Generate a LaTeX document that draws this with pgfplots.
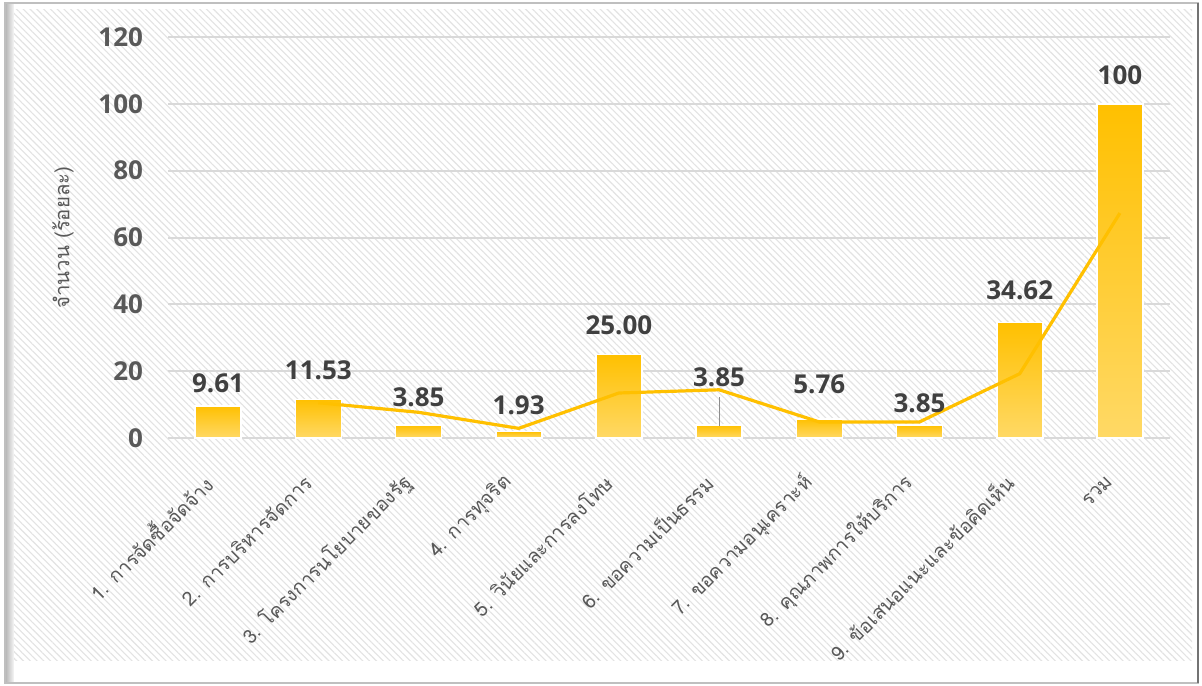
\documentclass[border=0pt]{standalone}
\usepackage{fontspec}
\usepackage{pgfplots}
\pgfplotsset{compat=1.18}
\usetikzlibrary{patterns.meta}
\newfontfamily\thai[Script=Thai]{Loma}
\newfontfamily\numfont{Open Sans}
\definecolor{barTop}{RGB}{255,192,0}
\definecolor{barBot}{RGB}{255,217,102}
\definecolor{lineCol}{RGB}{255,192,0}
\definecolor{gridCol}{RGB}{217,217,217}
\definecolor{tickCol}{RGB}{89,89,89}
\definecolor{labCol}{RGB}{64,64,64}

\pgfplotstableread{
x y label
1 16.5 9.61
2 20.3 11.53
3 12.3 3.85
4 9.9 1.93
5 33.8 25.00
6 18.3 3.85
7 16.2 5.76
8 10.5 3.85
9 44.3 34.62
10 108.6 100
}\labels

\pgfplotsset{gbar/.style={ybar, bar width=23pt, draw=white, line width=0.8pt, top color=barTop, bottom color=barBot}}

\begin{document}
\begin{tikzpicture}
% page and frame (1px = 0.5pt, origin at the axis corner)
\useasboundingbox (-84pt,-123.5pt) rectangle (517pt,219pt);
\fill[white] (-84pt,-123.5pt) rectangle (517pt,219pt);
\fill[pattern={Lines[angle=-45,distance=2.4pt,line width=0.55pt]}, pattern color=black!11]
  (-78pt,-111pt) rectangle (512pt,214pt);
\shade[left color=black!30, right color=black!3] (-81.5pt,-122.5pt) rectangle (-77pt,217.5pt);
\draw[black!25, line width=1pt] (-81.5pt,-122.5pt) rectangle (515pt,217.5pt);
\draw[black!55, line width=1.2pt] (515pt,-122.5pt) -- (515pt,217.5pt);

\begin{axis}[
    scale only axis,
    width=501pt, height=200.5pt,
    at={(0,0)}, anchor=south west,
    xmin=0.5, xmax=10.5,
    ymin=0, ymax=120,
    ytick={0,20,40,60,80,100,120},
    xtick={1,...,10},
    xticklabels={{1. การจัดซื้อจัดจ้าง},{2. การบริหารจัดการ},{3. โครงการนโยบายของรัฐ},{4. การทุจริต},{5. วินัยและการลงโทษ},{6. ขอความเป็นธรรม},{7. ขอความอนุเคราะห์},{8. คุณภาพการให้บริการ},{9. ข้อเสนอแนะและข้อคิดเห็น},{รวม}},
    axis line style={draw=none},
    major tick length=0pt,
    ymajorgrids,
    grid style={gridCol, line width=1pt},
    /pgf/number format/assume math mode=true,
    yticklabel style={font=\numfont\bfseries\fontsize{13}{15}\selectfont, text=tickCol, anchor=east, xshift=-9pt},
    xticklabel style={font=\thai\fontsize{9.8}{11}\selectfont, text=tickCol, rotate=45, anchor=east, inner sep=0pt, xshift=-7pt},
    xticklabel shift=15.5pt,
    ylabel={จำนวน (ร้อยละ)},
    ylabel style={font=\thai\fontsize{10.2}{12}\selectfont, text=tickCol, at={(axis description cs:-0.1048,0.5)}, anchor=center, rotate=0},
    clip=false,
]
% one plot per bar, so that each bar gets its own gradient
\addplot[gbar] coordinates {(1,9.61)};
\addplot[gbar] coordinates {(2,11.53)};
\addplot[gbar] coordinates {(3,3.85)};
\addplot[gbar] coordinates {(4,1.93)};
\addplot[gbar] coordinates {(5,25.00)};
\addplot[gbar] coordinates {(6,3.85)};
\addplot[gbar] coordinates {(7,5.76)};
\addplot[gbar] coordinates {(8,3.85)};
\addplot[gbar] coordinates {(9,34.62)};
\addplot[gbar] coordinates {(10,100)};
\addplot[black!45, line width=0.6pt, mark=none] coordinates {(6,3.7) (6,12.4)};
\addplot[lineCol, line width=1.6pt, mark=none]
  coordinates {(2,10.57) (3,7.69) (4,2.89) (5,13.47) (6,14.43) (7,4.81) (8,4.81) (9,19.24) (10,67.31)};
\addplot[draw=none, mark=none, nodes near coords, point meta=explicit symbolic,
  nodes near coords style={anchor=center, font=\numfont\bfseries\fontsize{13}{15}\selectfont, text=labCol}]
  table[x=x, y=y, meta=label] {\labels};
\end{axis}
\end{tikzpicture}
\end{document}
